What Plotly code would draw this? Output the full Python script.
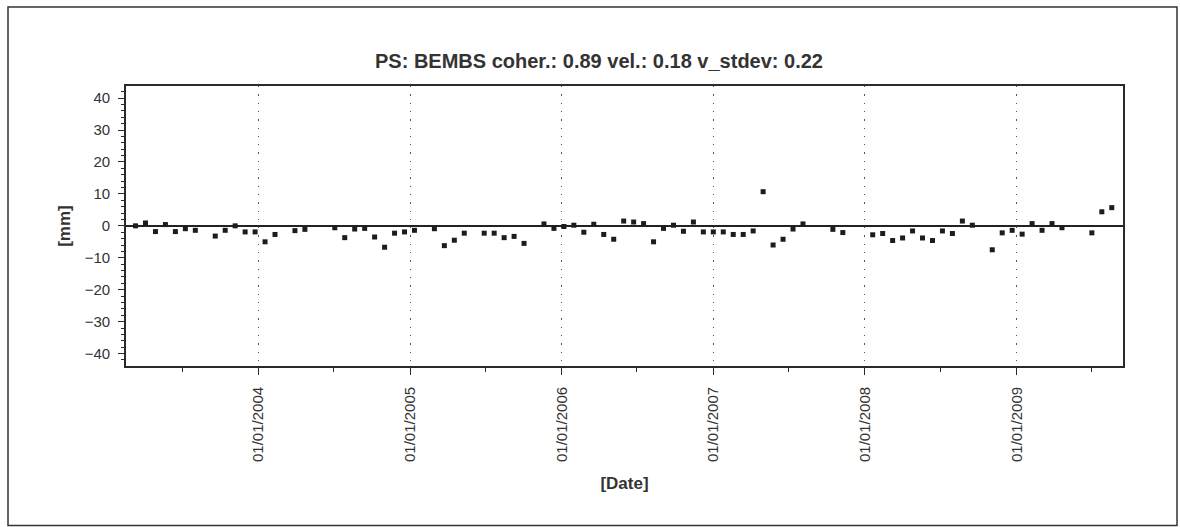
import plotly.graph_objects as go

# PS displacement time series (24-day acquisition cycle)
dates = [
    "2003-03-11", "2003-04-04", "2003-04-28", "2003-05-22", "2003-06-15", "2003-07-09",
    "2003-08-02", "2003-09-19", "2003-10-13", "2003-11-06", "2003-11-30", "2003-12-24",
    "2004-01-17", "2004-02-10", "2004-03-29", "2004-04-22", "2004-07-03", "2004-07-27",
    "2004-08-20", "2004-09-13", "2004-10-07", "2004-10-31", "2004-11-24", "2004-12-18",
    "2005-01-11", "2005-02-28", "2005-03-24", "2005-04-17", "2005-05-11", "2005-06-28",
    "2005-07-22", "2005-08-15", "2005-09-08", "2005-10-02", "2005-11-19", "2005-12-13",
    "2006-01-06", "2006-01-30", "2006-02-23", "2006-03-19", "2006-04-12", "2006-05-06",
    "2006-05-30", "2006-06-23", "2006-07-17", "2006-08-10", "2006-09-03", "2006-09-27",
    "2006-10-21", "2006-11-14", "2006-12-08", "2007-01-01", "2007-01-25", "2007-02-18",
    "2007-03-14", "2007-04-07", "2007-05-01", "2007-05-25", "2007-06-18", "2007-07-12",
    "2007-08-05", "2007-10-16", "2007-11-09", "2008-01-20", "2008-02-13", "2008-03-08",
    "2008-04-01", "2008-04-25", "2008-05-19", "2008-06-12", "2008-07-06", "2008-07-30",
    "2008-08-23", "2008-09-16", "2008-11-03", "2008-11-27", "2008-12-21", "2009-01-14",
    "2009-02-07", "2009-03-03", "2009-03-27", "2009-04-20", "2009-07-01", "2009-07-25",
    "2009-08-18",
]
displacement_mm = [
    0.0, 0.9, -1.8, 0.4, -1.8, -0.9,
    -1.4, -3.2, -1.4, 0.0, -1.9, -1.9,
    -5.0, -2.7, -1.5, -1.1, -0.6, -3.7,
    -1.0, -0.8, -3.5, -6.7, -2.3, -1.9,
    -1.4, -0.9, -6.2, -4.5, -2.3, -2.3,
    -2.3, -3.7, -3.3, -5.5, 0.6, -0.8,
    -0.2, 0.2, -2.0, 0.5, -2.7, -4.2,
    1.5, 1.2, 0.7, -5.0, -0.8, 0.2,
    -1.7, 1.2, -1.9, -1.9, -1.9, -2.7,
    -2.7, -1.6, 10.7, -6.0, -4.2, -1.0,
    0.6, -1.1, -2.1, -2.8, -2.4, -4.6,
    -3.8, -1.6, -3.8, -4.6, -1.6, -2.4,
    1.5, 0.2, -7.5, -2.2, -1.4, -2.6,
    0.7, -1.4, 0.7, -0.6, -2.2, 4.4,
    5.7,
]

title_text = "PS: BEMBS coher.: 0.89 vel.: 0.18 v_stdev: 0.22"
x_title = "[Date]"
y_title = "[mm]"

x_range = ["2003-02-16", "2009-09-14"]
y_range = [-43.9, 43.8]

FONT = "Liberation Sans, Arial, sans-serif"
INK = "#2a2a2a"
TEXT = "#333333"

W, H = 1180, 527
ML, MR, MT, MB = 126, 57, 86, 161

fig = go.Figure()
fig.add_trace(go.Scatter(
    x=dates, y=displacement_mm, mode="markers",
    marker=dict(symbol="square", size=5, color="#1c1c1c"),
    showlegend=False, hoverinfo="x+y",
))

date_ticks = dict(
    type="date", range=x_range, tick0="2004-01-01", dtick="M12",
)
mm_ticks = dict(range=y_range, tick0=0, dtick=10)

fig.update_layout(
    width=W, height=H,
    margin=dict(l=ML, r=MR, t=MT, b=MB, autoexpand=False),
    paper_bgcolor="white", plot_bgcolor="white",
    font=dict(family=FONT, color=TEXT, size=15),
    title=dict(
        text=title_text, xref="paper", x=(599 - ML) / (W - ML - MR), xanchor="center",
        yref="container", y=1 - 61 / H, yanchor="middle",
        font=dict(family=FONT, size=20, color=TEXT, weight="bold"),
    ),
    xaxis=dict(
        **date_ticks, tickformat="%m/%d/%Y", tickangle=-90,
        ticks="outside", ticklen=7, tickwidth=1.3, tickcolor=INK,
        minor=dict(ticks="outside", dtick="M6", tick0="2003-07-01", ticklen=4,
                   tickwidth=1.2, tickcolor=INK, showgrid=False),
        showline=True, linecolor=INK, linewidth=1.8, mirror=True,
        showgrid=True, gridcolor="#555555", gridwidth=1.3, griddash="1.3px,7px",
        zeroline=False, ticklabelstandoff=6,
        tickfont=dict(size=15, color=TEXT),
        title=dict(text=x_title, standoff=16,
                   font=dict(size=17, color=TEXT, weight="bold")),
    ),
    xaxis2=dict(
        **date_ticks, overlaying="x", anchor="y", side="bottom",
        ticks="inside", ticklen=7, tickwidth=1.3, tickcolor=INK,
        minor=dict(ticks="inside", dtick="M6", tick0="2003-07-01", ticklen=4,
                   tickwidth=1.2, tickcolor=INK, showgrid=False),
        showticklabels=False, showgrid=False, showline=False, zeroline=False,
    ),
    xaxis3=dict(
        **date_ticks, overlaying="x", anchor="y", side="top",
        ticks="inside", ticklen=6, tickwidth=1.3, tickcolor=INK,
        minor=dict(ticks="inside", dtick="M6", tick0="2003-07-01", ticklen=4,
                   tickwidth=1.2, tickcolor=INK, showgrid=False),
        showticklabels=False, showgrid=False, showline=False, zeroline=False,
    ),
    yaxis=dict(
        **mm_ticks,
        ticks="outside", ticklen=6, tickwidth=1.3, tickcolor=INK,
        minor=dict(ticks="outside", dtick=2, ticklen=3.5, tickwidth=1.1,
                   tickcolor=INK, showgrid=False),
        showline=True, linecolor=INK, linewidth=1.8, mirror=True,
        showgrid=False, zeroline=True, zerolinecolor="#222222", zerolinewidth=1.8,
        ticklabelstandoff=5,
        tickfont=dict(size=15, color=TEXT),
        title=dict(text=y_title, standoff=10,
                   font=dict(size=17, color=TEXT, weight="bold")),
    ),
    yaxis2=dict(
        **mm_ticks, overlaying="y", anchor="x", side="left",
        ticks="inside", ticklen=6, tickwidth=1.3, tickcolor=INK,
        minor=dict(ticks="inside", dtick=2, ticklen=3.5, tickwidth=1.1,
                   tickcolor=INK, showgrid=False),
        showticklabels=False, showgrid=False, showline=False, zeroline=False,
    ),
    yaxis3=dict(
        **mm_ticks, overlaying="y", anchor="x", side="right",
        ticks="inside", ticklen=6, tickwidth=1.3, tickcolor=INK,
        minor=dict(ticks="inside", dtick=2, ticklen=3.5, tickwidth=1.1,
                   tickcolor=INK, showgrid=False),
        showticklabels=False, showgrid=False, showline=False, zeroline=False,
    ),
)

# outer frame around the whole chart panel
pw, ph = W - ML - MR, H - MT - MB
fig.add_shape(
    type="rect", xref="paper", yref="paper",
    x0=(8 - ML) / pw, x1=(1177 - ML) / pw,
    y0=(H - MB - 525.5) / ph, y1=(H - MB - 7) / ph,
    line=dict(color="#333333", width=1.5), fillcolor="rgba(0,0,0,0)", layer="below",
)

fig.write_html("out.html")
